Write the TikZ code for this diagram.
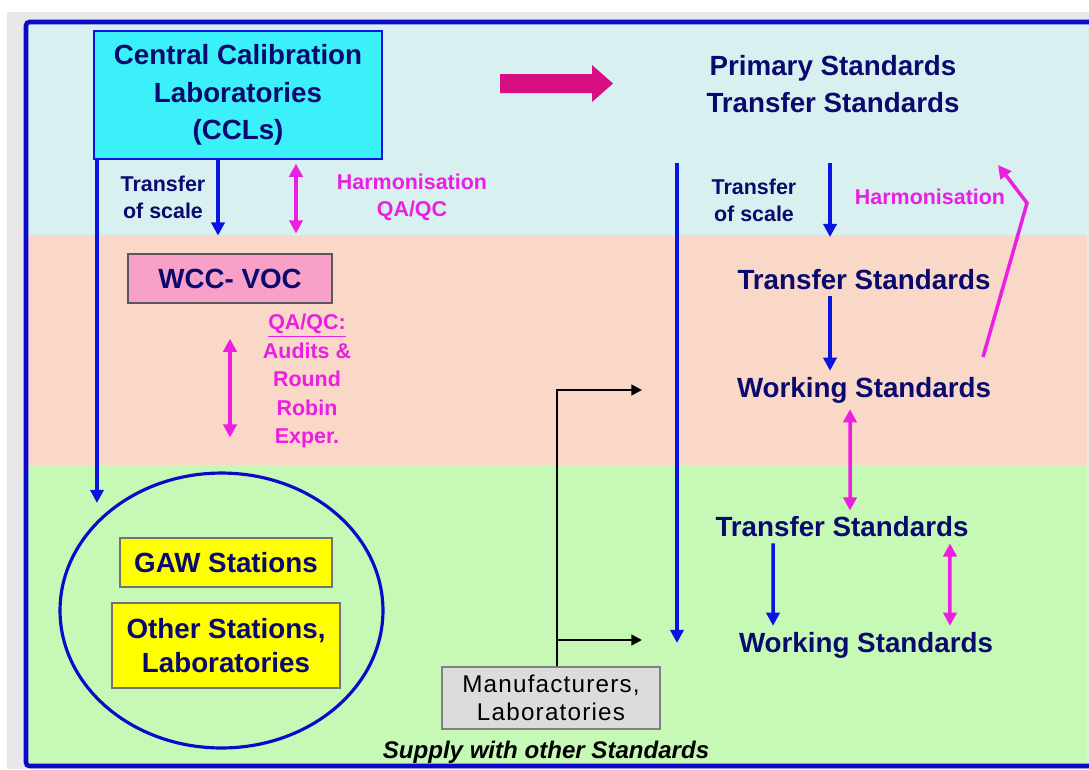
\documentclass[tikz,border=0pt]{standalone}
\usepackage{fontspec}
\setmainfont{Liberation Sans}
\newfontfamily\spacedfont[LetterSpace=5]{Liberation Sans}
\usetikzlibrary{shapes.geometric, arrows.meta, positioning}

\definecolor{navytext}{RGB}{10,10,110}
\definecolor{arrowblue}{RGB}{10,20,225}
\definecolor{frameblue}{RGB}{10,10,200}
\definecolor{harmpink}{RGB}{235,30,225}
\definecolor{bigpink}{RGB}{215,15,130}
\definecolor{bandcyan}{RGB}{216,240,240}
\definecolor{bandsalmon}{RGB}{250,216,200}
\definecolor{bandgreen}{RGB}{198,248,182}
\definecolor{cclcyan}{RGB}{60,240,250}
\definecolor{wccpink}{RGB}{248,160,200}
\definecolor{gawyellow}{RGB}{255,255,0}
\definecolor{mangrey}{RGB}{220,220,220}
\definecolor{pagegrey}{RGB}{232,232,232}

\newcommand{\labelfont}{\fontsize{15.8}{21.5}\selectfont\bfseries}
\newcommand{\notefont}{\fontsize{12.2}{15.3}\selectfont\bfseries}

\begin{document}
\begin{tikzpicture}[x=0.02cm, y=-0.02cm, >={Triangle[length=7.5pt,width=7.5pt]},
  stdlabel/.style={text=navytext, font=\labelfont, align=center},
  notelabel/.style={font=\notefont, align=center},
  colbox/.style={draw, inner sep=0pt, line width=0.7pt},
  bluearrow/.style={->, color=arrowblue, line width=2pt},
  pinkarrow/.style={<->, color=harmpink, line width=2pt},
  supplyarrow/.style={->, color=black, line width=1.4pt, >={Triangle[length=6pt,width=6pt]}}]
  % background bands and frame
  \useasboundingbox (0,0) rectangle (1089,769);
  \fill[pagegrey] (7,12) rectangle (1089,769);
  \fill[bandcyan] (26,22) rectangle (1087,235);
  \fill[bandsalmon] (26,235) rectangle (1087,465);
  \fill[bandgreen] (26,465) rectangle (1087,765);
  \draw[frameblue, line width=2.6pt, rounded corners=2pt] (1100,22) -- (26,22) -- (26,766) -- (1100,766);

  % left side: CCL, WCC and the stations
  \node[colbox, draw=arrowblue, fill=cclcyan, minimum width=5.76cm, minimum height=2.56cm, stdlabel] (ccl) at (238,95) {Central Calibration\\Laboratories\\(CCLs)};
  \node[notelabel, text=navytext] (tosL) at (163,197) {Transfer\\of scale};
  \node[notelabel, text=harmpink] (harmL) at (412,197) {Harmonisation\\QA/QC};
  \node[colbox, draw=black!65, fill=wccpink, minimum width=4.08cm, minimum height=0.98cm, stdlabel] (wcc) at (230,278.5) {WCC- VOC};
  \node[notelabel, text=harmpink, font=\fontsize{12.2}{16.2}\selectfont\bfseries] (audit) at (307,381) {\underline{QA/QC:}\\Audits \&\\Round\\Robin\\Exper.};
  \node[ellipse, draw=frameblue, line width=1.8pt, minimum width=6.46cm, minimum height=5.5cm] (stations) at (221.5,610.5) {};
  \node[colbox, draw=black!55, fill=gawyellow, minimum width=4.24cm, minimum height=0.98cm, stdlabel] (gaw) at (226,562.5) {GAW Stations};
  \node[colbox, draw=black!55, fill=gawyellow, minimum width=4.56cm, minimum height=1.7cm, stdlabel, font=\fontsize{15.8}{19.8}\selectfont\bfseries] (other) at (226,645.5) {Other Stations,\\Laboratories};

  % right side: chain of standards
  \fill[bigpink] (500,74) -- (592,74) -- (592,65) -- (613,83.5) -- (592,102) -- (592,93) -- (500,93) -- cycle;
  \node[stdlabel] (prim) at (833,84) {Primary Standards\\Transfer Standards};
  \node[notelabel, text=navytext] (tosR) at (754,200) {Transfer\\of scale};
  \node[notelabel, text=harmpink] (harmR) at (930,197) {Harmonisation};
  \node[stdlabel] (ts1) at (864,280) {Transfer Standards};
  \node[stdlabel] (ws1) at (864,390) {Working Standards};
  \node[stdlabel] (ts2) at (842,527) {Transfer Standards};
  \node[stdlabel] (ws2) at (866,645) {Working Standards};

  % manufacturers
  \node[colbox, draw=black!50, fill=mangrey, minimum width=4.36cm, minimum height=1.24cm, font=\spacedfont\fontsize{13.8}{16}\selectfont, align=center] (manu) at (551,698) {Manufacturers,\\Laboratories};
  \node[font=\fontsize{13.7}{16}\selectfont\bfseries\itshape] (supply) at (546,752) {Supply with other Standards};

  \coordinate (tipL) at (97,503);
  \coordinate (topR) at (677,163);
  \coordinate (tipR) at (677,643);
  \coordinate (topT) at (830,163);
  \coordinate (tipT) at (830,237);
  \coordinate (harm1) at (983,357);
  \coordinate (harm2) at (1027,203);
  \coordinate (harm3) at (998,165);
  \coordinate (sup1) at (642,390);
  \coordinate (sup2) at (642,640);

  % connectors
  \draw[bluearrow] (ccl.south -| tipL) -- (tipL);
  \draw[bluearrow] ([xshift=-0.4cm]ccl.south) -- ++(0,76);
  \draw[pinkarrow] ([xshift=1.16cm,yshift=-0.08cm]ccl.south) -- ++(0,70);
  \draw[pinkarrow] ([yshift=-0.7cm]wcc.south) -- ++(0,99);
  \draw[bluearrow] (topR) -- (tipR);
  \draw[bluearrow] (topT) -- (tipT);
  \draw[harmpink, line width=2pt, ->] (harm1) -- (harm2) -- (harm3);
  \draw[bluearrow] ([xshift=-0.68cm]ts1.south) -- ([xshift=-0.68cm]ws1.north);
  \draw[pinkarrow] ([xshift=-0.28cm]ws1.south) -- ([xshift=0.16cm]ts2.north);
  \draw[bluearrow] ([xshift=-1.38cm]ts2.south) -- ([xshift=-1.86cm]ws2.north);
  \draw[pinkarrow] ([xshift=2.16cm]ts2.south) -- ([xshift=1.68cm]ws2.north);
  \draw[supplyarrow] ([xshift=0.12cm]manu.north) |- (sup1);
  \draw[supplyarrow] ([xshift=0.12cm]manu.north) |- (sup2);
\end{tikzpicture}
\end{document}
